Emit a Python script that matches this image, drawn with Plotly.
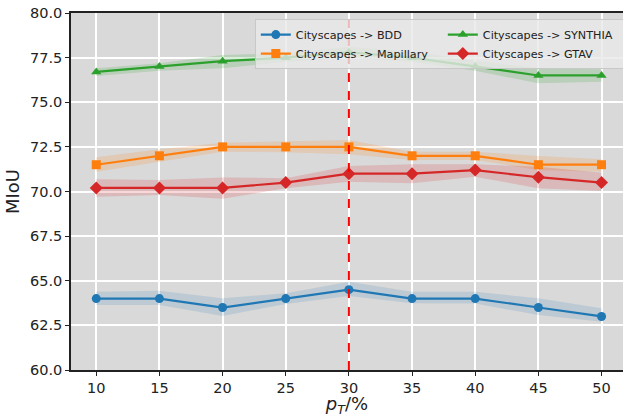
import plotly.graph_objects as go

x_vals = [10, 15, 20, 25, 30, 35, 40, 45, 50]

bdd = [64.0, 64.0, 63.5, 64.0, 64.5, 64.0, 64.0, 63.5, 63.0]
bdd_hi = [64.39, 64.44, 64.02, 64.3, 64.95, 64.39, 64.38, 64.02, 63.46]
bdd_lo = [63.64, 63.64, 63.03, 63.7, 64.15, 63.74, 63.72, 63.08, 62.7]

map_ = [71.5, 72.0, 72.5, 72.5, 72.5, 72.0, 72.0, 71.5, 71.5]
map_hi = [71.92, 72.36, 72.73, 72.79, 72.89, 72.23, 72.23, 71.99, 71.8]
map_lo = [71.1, 71.67, 72.23, 72.2, 72.08, 71.76, 71.76, 71.2, 71.1]

syn = [76.7, 77.0, 77.3, 77.5, 77.8, 77.5, 77.0, 76.5, 76.5]
syn_hi = [76.9, 77.18, 77.65, 77.74, 78.1, 77.83, 77.33, 76.9, 76.85]
syn_lo = [76.47, 76.77, 76.9, 77.27, 77.5, 77.27, 76.77, 76.06, 76.15]

gtav = [70.2, 70.2, 70.2, 70.5, 71.0, 71.0, 71.2, 70.8, 70.5]
gtav_hi = [70.68, 70.64, 70.79, 70.74, 71.43, 71.52, 71.52, 71.39, 71.05]
gtav_lo = [69.71, 69.8, 69.6, 70.18, 70.55, 70.46, 70.83, 70.18, 70.03]

y_ticks = [60.0, 62.5, 65.0, 67.5, 70.0, 72.5, 75.0, 77.5, 80.0]
marker_x = 30

series = [
    ("Cityscapes -> BDD", bdd, bdd_hi, bdd_lo, "#1f77b4", "rgba(31,119,180,0.15)", "circle", 1),
    ("Cityscapes -> Mapillary", map_, map_hi, map_lo, "#ff7f0e", "rgba(255,127,14,0.18)", "square", 3),
    ("Cityscapes -> SYNTHIA", syn, syn_hi, syn_lo, "#2ca02c", "rgba(44,160,44,0.18)", "triangle-up", 2),
    ("Cityscapes -> GTAV", gtav, gtav_hi, gtav_lo, "#d62728", "rgba(214,39,40,0.18)", "diamond", 4),
]

fig = go.Figure()

for name, y, hi, lo, col, fcol, sym, rank in series:
    fig.add_trace(go.Scatter(
        x=x_vals + x_vals[::-1], y=hi + lo[::-1], fill="toself", fillcolor=fcol,
        line=dict(width=0), mode="lines", showlegend=False, hoverinfo="skip"))

for name, y, hi, lo, col, fcol, sym, rank in series:
    fig.add_trace(go.Scatter(
        x=x_vals, y=y, name=name, mode="lines+markers", legendrank=rank,
        line=dict(color=col, width=2.2),
        marker=dict(symbol=sym, size=9 if sym != "diamond" else 10, color=col)))

fig.add_shape(type="line", x0=marker_x, x1=marker_x, y0=0, y1=1, yref="paper",
              line=dict(color="red", width=2, dash="dash"))

fig.update_layout(
    width=623, height=417,
    margin=dict(l=71, r=0, t=13, b=47, autoexpand=False),
    paper_bgcolor="white", plot_bgcolor="#d9d9d9",
    font=dict(family="DejaVu Sans", size=14, color="#222"),
    showlegend=True,
    legend=dict(orientation="h", x=0.333, xanchor="left", y=0.983, yanchor="top",
                entrywidth=142, traceorder="normal",
                bgcolor="rgba(232,232,232,0.8)", bordercolor="#c8c8c8", borderwidth=1,
                font=dict(size=11.2, color="#222"), tracegroupgap=0, itemwidth=30),
    xaxis=dict(range=[8, 51.7], tickvals=x_vals, ticktext=[str(v) for v in x_vals],
               showgrid=True, gridcolor="white", gridwidth=1.5, zeroline=False,
               showline=True, linecolor="#222", linewidth=1.5, mirror=True,
               ticks="outside", ticklen=4, tickcolor="#222", automargin=False,
               tickfont=dict(size=14.5),
               title=dict(text="<i>p</i><sub><i>T</i></sub>/%", font=dict(size=18), standoff=4)),
    yaxis=dict(range=[60, 80], tickvals=y_ticks, ticktext=[f"{v:.1f}" for v in y_ticks],
               showgrid=True, gridcolor="white", gridwidth=1.5, zeroline=False,
               showline=True, linecolor="#222", linewidth=1.5, mirror=True,
               ticks="outside", ticklen=4, tickcolor="#222", automargin=False,
               tickfont=dict(size=14.5),
               title=dict(text="MIoU", font=dict(size=18), standoff=6)),
)

fig.write_html("out.html", config={"displayModeBar": False},
               post_script="document.body.style.margin='0';document.body.style.overflow='hidden';")
